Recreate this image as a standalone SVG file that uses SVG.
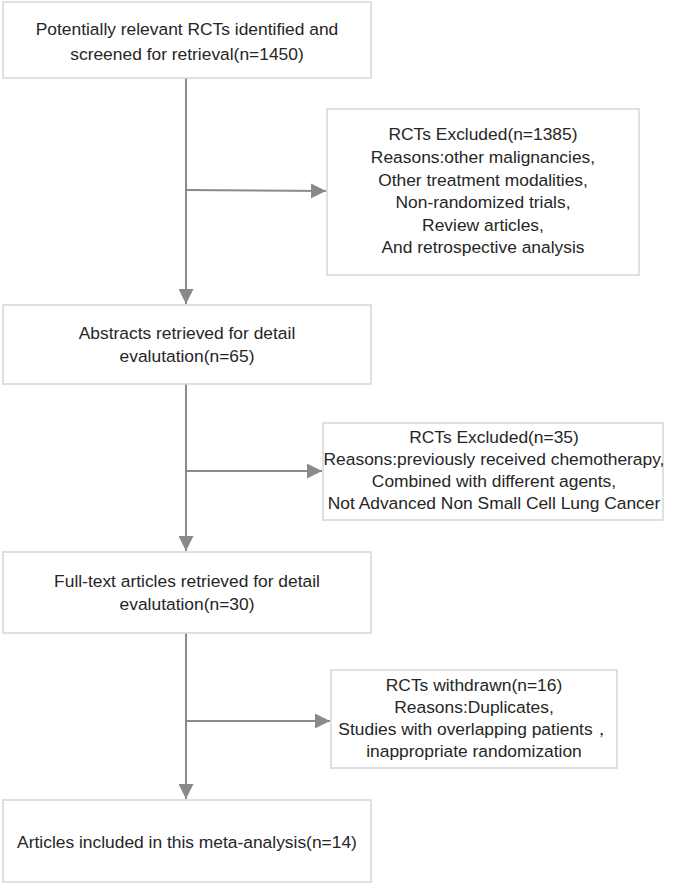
<svg xmlns="http://www.w3.org/2000/svg" width="675" height="884" viewBox="0 0 675 884">
<defs>
<style>
.box{fill:#fff;stroke:#d6d6d6;stroke-width:1.5}
.t{font-family:"Liberation Sans","Open Sans",sans-serif;font-size:17.4px;fill:#262626;text-anchor:middle}
.c{stroke:#8a8a8a;stroke-width:2;fill:none}
</style>
<marker id="ah" viewBox="0 0 10 10" refX="10" refY="5" markerWidth="15" markerHeight="15" markerUnits="userSpaceOnUse" orient="auto">
<path d="M0,0 L10,5 L0,10 z" fill="#8a8a8a"/>
</marker>
</defs>
<rect width="675" height="884" fill="#fff"/>
<g id="connectors">
<line class="c" x1="186" y1="78" x2="186" y2="304" marker-end="url(#ah)"/>
<line class="c" x1="186" y1="190" x2="326" y2="191" marker-end="url(#ah)"/>
<line class="c" x1="186" y1="384" x2="186" y2="551" marker-end="url(#ah)"/>
<line class="c" x1="186" y1="471" x2="322" y2="471" marker-end="url(#ah)"/>
<line class="c" x1="186" y1="633" x2="186" y2="799" marker-end="url(#ah)"/>
<line class="c" x1="186" y1="721" x2="330" y2="721" marker-end="url(#ah)"/>
</g>
<g id="n1">
<rect class="box" x="3" y="2" width="368" height="76"/>
<text class="t" x="187" y="35">Potentially relevant RCTs identified and</text>
<text class="t" x="187" y="60">screened for retrieval(n=1450)</text>
</g>
<g id="n2">
<rect class="box" x="327" y="109" width="312" height="166"/>
<text class="t" x="483" y="140">RCTs Excluded(n=1385)</text>
<text class="t" x="483" y="163">Reasons:other malignancies,</text>
<text class="t" x="483" y="186">Other treatment modalities,</text>
<text class="t" x="483" y="208">Non-randomized trials,</text>
<text class="t" x="483" y="231">Review articles,</text>
<text class="t" x="483" y="253">And retrospective analysis</text>
</g>
<g id="n3">
<rect class="box" x="3" y="305" width="368" height="79"/>
<text class="t" x="187" y="339">Abstracts retrieved for detail</text>
<text class="t" x="187" y="362">evalutation(n=65)</text>
</g>
<g id="n4">
<rect class="box" x="323" y="423" width="340" height="97"/>
<text class="t" x="494" y="443">RCTs Excluded(n=35)</text>
<text class="t" x="494" y="465">Reasons:previously received chemotherapy,</text>
<text class="t" x="494" y="487">Combined with different agents,</text>
<text class="t" x="494" y="509">Not Advanced Non Small Cell Lung Cancer</text>
</g>
<g id="n5">
<rect class="box" x="3" y="552" width="368" height="81"/>
<text class="t" x="187" y="587">Full-text articles retrieved for detail</text>
<text class="t" x="187" y="610">evalutation(n=30)</text>
</g>
<g id="n6">
<rect class="box" x="331" y="670" width="286" height="98"/>
<text class="t" x="474" y="691">RCTs withdrawn(n=16)</text>
<text class="t" x="474" y="713">Reasons:Duplicates,</text>
<text class="t" x="474" y="735">Studies with overlapping patients，</text>
<text class="t" x="474" y="757">inappropriate randomization</text>
</g>
<g id="n7">
<rect class="box" x="3" y="800" width="368" height="82"/>
<text class="t" x="187" y="848">Articles included in this meta-analysis(n=14)</text>
</g>
</svg>
